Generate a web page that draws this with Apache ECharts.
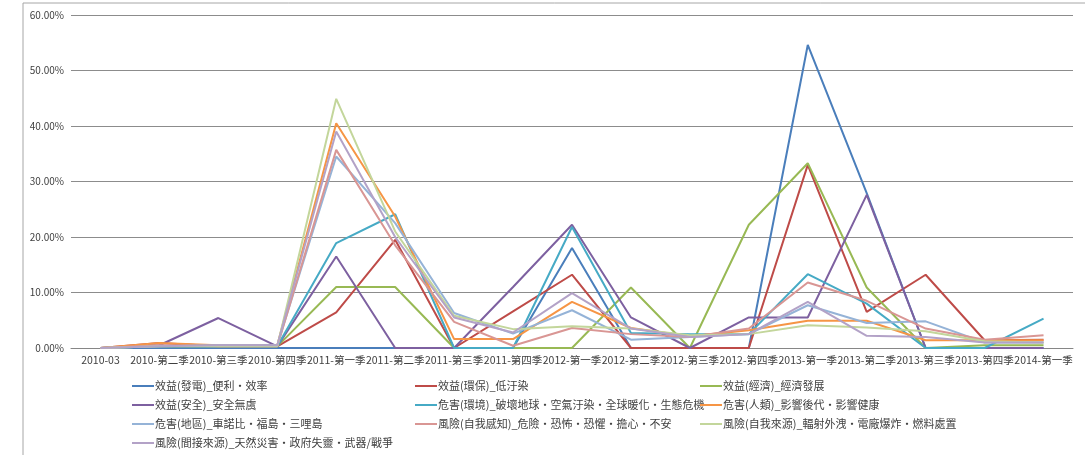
<!DOCTYPE html>
<html><head><meta charset="utf-8">
<script src="https://cdn.jsdelivr.net/npm/echarts@6/dist/echarts.min.js"></script>
<style>html,body{margin:0;padding:0;background:#fff}#c{width:1085px;height:455px}</style>
</head><body><div id="c"></div>
<script>
const categories = ['2010-03','2010-第二季','2010-第三季','2010-第四季','2011-第一季','2011-第二季','2011-第三季','2011-第四季','2012-第一季','2012-第二季','2012-第三季','2012-第四季','2013-第一季','2013-第二季','2013-第三季','2013-第四季','2014-第一季'];
const yTicks = [0,10,20,30,40,50,60];
const names = [
 '效益(發電)_便利・效率',
 '效益(環保)_低汙染',
 '效益(經濟)_經濟發展',
 '效益(安全)_安全無虞',
 '危害(環境)_破壞地球・空氣汙染・全球暖化・生態危機',
 '危害(人類)_影響後代・影響健康',
 '危害(地區)_車諾比・福島・三哩島',
 '風險(自我感知)_危險・恐怖・恐懼・擔心・不安',
 '風險(自我來源)_輻射外洩・電廠爆炸・燃料處置',
 '風險(間接來源)_天然災害・政府失靈・武器/戰爭'
];
const s1 = [0,0,0,0,0,0,0,0,18,0,0,0,54.6,27.9,0,0,0];
const s2 = [0,0.9,0.3,0.3,6.4,19.5,0,6.6,13.2,0,0,0,33,6.5,13.2,1.4,1.5];
const s3 = [0,0.3,0.3,0.3,11,11,0,0,0,10.9,0,22.2,33.3,10.9,0,0.5,0.5];
const s4 = [0,0.5,5.4,0.3,16.5,0,0,11,22.2,5.5,0,5.5,5.5,27.6,0,0,0];
const s5 = [0,0.3,0.3,0.3,18.9,24.1,0,0,21.8,2.7,2.5,2.5,13.3,8,0,0,5.3];
const s6 = [0,0.9,0.5,0.5,40.5,23.7,1.6,1.6,8.3,3.6,2.1,3.2,4.9,4.9,1.4,1.4,1.4];
const s7 = [0,0.3,0.5,0.5,34.5,22.5,6.3,2.6,6.8,1.5,2,2.5,7.7,4.5,4.8,1,1];
const s8 = [0,0.5,0.3,0.3,35.7,18.5,4.7,0.4,3.6,2.5,2,3.5,11.8,8.5,3.5,1.5,2.3];
const s9 = [0,0.3,0.3,0.3,44.9,21,5.8,3.4,3.9,3.5,2.3,2.5,4.1,3.7,3,1.2,1];
const s10 = [0,0.3,0.5,0.5,39,20,5.5,2.8,9.9,3.5,2,2.5,8.3,2.2,2,1,1];
const seriesValues = [s1,s2,s3,s4,s5,s6,s7,s8,s9,s10];
const colors = ['#4A7EBB','#BE4B48','#98B954','#7D60A0','#46AAC5','#F69545','#95B3D7','#D99694','#C3D69B','#B3A2C7'];

const font = '"Noto Sans CJK TC","Liberation Sans",sans-serif';
const legendBase = {
  orient:'vertical', icon:'rect', itemWidth:22, itemHeight:2, itemGap:5,
  textStyle:{fontFamily:font, fontSize:11, color:'#404040', lineHeight:14, padding:[0,0,0,-4]},
  padding:0, selectedMode:false
};
const chart = echarts.init(document.getElementById('c'));
chart.setOption({
  animation:false,
  color: colors,
  graphic:[{type:'rect', shape:{x:23,y:3,width:1100,height:500}, style:{fill:'none', stroke:'#a6a6a6', lineWidth:1}, silent:true}],
  grid:{left:71, right:12, top:15, bottom:107},
  legend:[
    Object.assign({}, legendBase, {left:132, top:379, data:[names[0],names[3],names[6],names[9]]}),
    Object.assign({}, legendBase, {left:415, top:379, data:[names[1],names[4],names[7]]}),
    Object.assign({}, legendBase, {left:700, top:379, data:[names[2],names[5],names[8]]})
  ],
  xAxis:{
    type:'category', data:categories, boundaryGap:true,
    axisLine:{show:true, lineStyle:{color:'#868686'}},
    axisTick:{show:false},
    axisLabel:{interval:0, fontFamily:font, fontSize:10.5, color:'#404040', margin:7}
  },
  yAxis:{
    type:'value', min:yTicks[0], max:yTicks[yTicks.length-1], interval:10,
    axisLine:{show:false}, axisTick:{show:false},
    splitLine:{lineStyle:{color:'#8c8c8c', width:1}},
    axisLabel:{formatter:v=>v.toFixed(2)+'%', fontFamily:font, fontSize:10, color:'#404040', margin:7}
  },
  series: names.map((n,i)=>({
    name:n, type:'line', data:seriesValues[i], symbol:'none', showSymbol:false,
    lineStyle:{width:2, color:colors[i]}, itemStyle:{color:colors[i]}
  }))
});
</script></body></html>
